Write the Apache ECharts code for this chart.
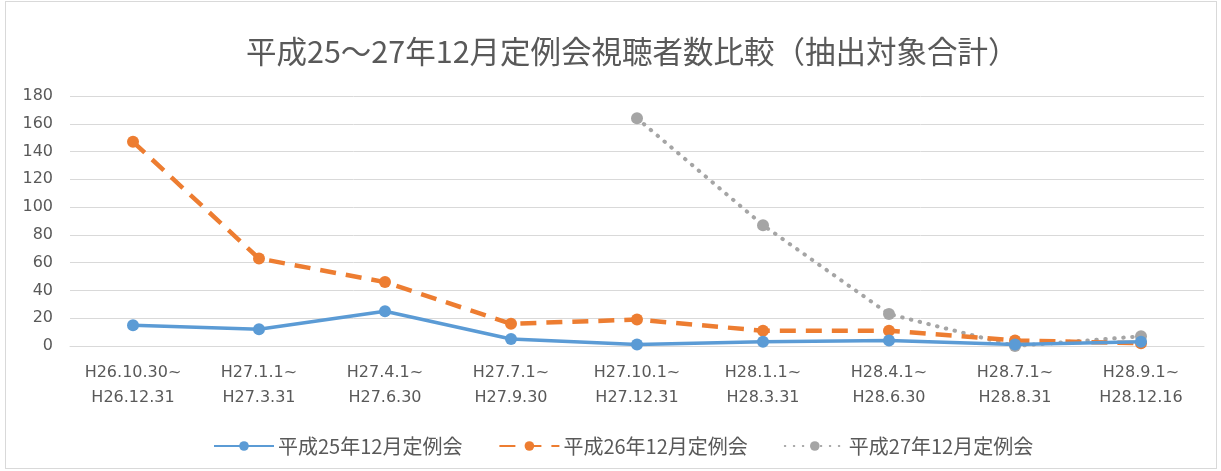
<!DOCTYPE html>
<html><head><meta charset="utf-8">
<script src="https://cdn.jsdelivr.net/npm/echarts@6/dist/echarts.min.js"></script>
<style>
html,body{margin:0;padding:0;background:#fff;}
#frame{position:absolute;left:5px;top:1px;width:1210px;height:466px;border:1px solid #d9d9d9;}
#c{position:absolute;left:0;top:0;width:1221px;height:471px;}
</style></head>
<body><div id="frame"></div><div id="c"></div>
<script>
const titleText = '平成25〜27年12月定例会視聴者数比較（抽出対象合計）';
const categories = ['H26.10.30~\nH26.12.31','H27.1.1~\nH27.3.31','H27.4.1~\nH27.6.30','H27.7.1~\nH27.9.30','H27.10.1~\nH27.12.31','H28.1.1~\nH28.3.31','H28.4.1~\nH28.6.30','H28.7.1~\nH28.8.31','H28.9.1~\nH28.12.16'];
const seriesNames = ['平成25年12月定例会','平成26年12月定例会','平成27年12月定例会'];
const h25 = [15, 12, 25, 5, 1, 3, 4, 1, 3];
const h26 = [147, 63, 46, 16, 19, 11, 11, 4, 2];
const h27 = [null, null, null, null, 164, 87, 23, 0, 7];
const yTicks = {min: 0, max: 180, interval: 20};

const font = '"Noto Sans CJK JP", "Noto Sans", sans-serif';
const numFont = '"DejaVu Sans", sans-serif';
const chart = echarts.init(document.getElementById('c'));
const colors = ['#5B9BD5', '#ED7D31', '#A5A5A5'];
const types = ['solid', [16, 10], [0.5, 8.5]];
const widths = [3.5, 4.5, 4];
const datasets = [h25, h26, h27];
chart.setOption({
  animation: false,
  textStyle: {fontFamily: font},
  title: {text: titleText, left: 241, top: 31,
    textStyle: {fontFamily: font, fontSize: 30.5, fontWeight: 'normal', color: '#595959'}},
  legend: {top: 431, left: 208, itemWidth: 60, itemHeight: 12, itemGap: 36,
    textStyle: {fontFamily: font, fontSize: 20, color: '#595959', padding: [0, 0, 0, -1]},
    data: seriesNames},
  grid: {left: 70, right: 17, top: 96, bottom: 125},
  xAxis: {type: 'category', data: categories, boundaryGap: true,
    axisLine: {lineStyle: {color: '#d9d9d9'}}, axisTick: {show: false},
    axisLabel: {color: '#595959', fontSize: 16, margin: 14, lineHeight: 25, fontFamily: numFont}},
  yAxis: {type: 'value', min: yTicks.min, max: yTicks.max, interval: yTicks.interval,
    axisLine: {show: false}, axisTick: {show: false},
    splitLine: {lineStyle: {color: '#d9d9d9'}},
    axisLabel: {color: '#595959', fontSize: 16, margin: 17, fontFamily: numFont}},
  series: datasets.map((d, i) => ({
    name: seriesNames[i], type: 'line', data: d, connectNulls: false,
    symbol: 'circle', symbolSize: 12,
    itemStyle: {color: colors[i]},
    lineStyle: {color: colors[i], width: widths[i], type: types[i], cap: i === 2 ? 'round' : 'butt'},
    z: 3 - i
  }))
});
</script></body></html>
